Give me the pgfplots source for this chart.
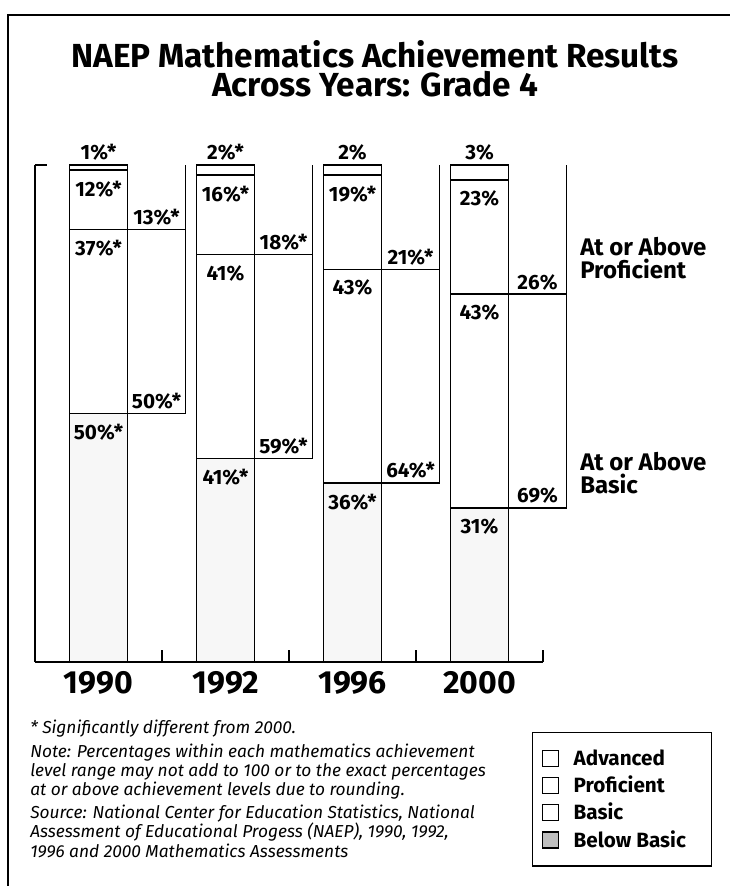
\documentclass[border=0pt]{standalone}
\usepackage{fontspec}
\setmainfont{Fira Sans}
\usepackage{pgfplots}
\pgfplotsset{compat=1.18}

\tikzset{
  inlab/.style={font=\bfseries\fontsize{15.5}{16}\selectfont, inner sep=0pt, text=black, anchor=north, yshift=-7.5pt},
  toplab/.style={font=\bfseries\fontsize{15.5}{16}\selectfont, inner sep=0pt, text=black, anchor=south, yshift=3pt},
  side/.style={font=\bfseries\fontsize{18}{19}\selectfont, anchor=base west, inner sep=0pt},
  foot/.style={font=\itshape\fontsize{13}{14}\selectfont, anchor=base west, inner sep=0pt},
}

\begin{document}
\begin{tikzpicture}
\begin{scope}[x=0.75pt,y=-0.75pt]
\useasboundingbox (0,0) rectangle (730,886);
\draw[line width=1.8pt] (8,886) -- (8,15) -- (730,15);
\node[font=\bfseries\fontsize{25}{22}\selectfont, anchor=north, inner sep=0pt, align=center] at (375,40)
  {NAEP Mathematics Achievement Results\\Across Years: Grade 4};
\node[side] at (580,255) {At or Above};
\node[side] at (580,278) {Proficient};
\node[side] at (580,470) {At or Above};
\node[side] at (580,493) {Basic};
\node[foot] at (30,733) {* Significantly different from 2000.};
\node[foot] at (30,757) {Note: Percentages within each mathematics achievement};
\node[foot] at (30,776) {level range may not add to 100 or to the exact percentages};
\node[foot] at (30,795) {at or above achievement levels due to rounding.};
\node[foot] at (30,818) {Source: National Center for Education Statistics, National};
\node[foot] at (30,837) {Assessment of Educational Progess (NAEP), 1990, 1992,};
\node[foot] at (30,857) {1996 and 2000 Mathematics Assessments};
\end{scope}

% stacked achievement levels (percent of students, from the bottom)
\begin{axis}[
  at={(26.25pt,-496.5pt)}, anchor=south west,
  scale only axis, width=381pt, height=372.75pt,
  xmin=-0.5, xmax=3.5, ymin=0, ymax=100,
  clip=false,
  axis x line=bottom, axis y line=left,
  axis line style={-, line width=1.3pt},
  ybar stacked, bar width=0.457,
  xtick={0.5,1.5,2.5,3.5},
  xticklabels={1990,1992,1996,2000},
  x tick label style={font=\bfseries\fontsize{24}{24}\selectfont, inner sep=0pt, anchor=north, xshift=-47.6pt, yshift=-7pt},
  ytick={100}, yticklabels={},
  tick align=inside, major tick length=9pt,
  every tick/.style={black, line width=1.3pt},
  point meta=explicit symbolic,
  visualization depends on={rawy \as \segh},
  legend image code/.code={\draw[#1, line width=0.9pt] (0pt,-6pt) rectangle (12pt,6pt);},
  legend cell align=left,
  legend style={at={(0.978,-0.141)}, anchor=north west, draw=black, line width=1pt,
    font=\bfseries\fontsize{15.5}{16}\selectfont, inner xsep=7pt, inner ysep=10.5pt,
    row sep=2.5pt, column sep=9pt},
]
\addplot[forget plot, draw=black, fill=black!3, line width=1.1pt, nodes near coords,
  every node near coord/.append style={inlab, shift={(axis direction cs:0,\segh/2)}}]
  coordinates {(0,50) [50\%*] (1,41) [41\%*] (2,36) [36\%*] (3,31) [31\%]};
\addplot[forget plot, draw=black, fill=white, line width=1.1pt, nodes near coords,
  every node near coord/.append style={inlab, shift={(axis direction cs:0,\segh/2)}}]
  coordinates {(0,37) [37\%*] (1,41) [41\%] (2,43) [43\%] (3,43) [43\%]};
\addplot[forget plot, draw=black, fill=white, line width=1.1pt, nodes near coords,
  every node near coord/.append style={inlab, shift={(axis direction cs:0,\segh/2)}}]
  coordinates {(0,12) [12\%*] (1,16) [16\%*] (2,19) [19\%*] (3,23) [23\%]};
\addplot[forget plot, draw=black, fill=white, line width=1.1pt, nodes near coords,
  every node near coord/.append style={toplab, shift={(axis direction cs:0,\segh/2)}}]
  coordinates {(0,1) [1\%*] (1,2) [2\%*] (2,2) [2\%] (3,3) [3\%]};
\addlegendimage{draw=black, fill=white}
\addlegendimage{draw=black, fill=white}
\addlegendimage{draw=black, fill=white}
\addlegendimage{draw=black, fill=black!25}
\legend{Advanced, Proficient, Basic, Below Basic\hspace*{10pt}}
\end{axis}

% at or above levels (percent of students, measured down from the top)
\begin{axis}[
  at={(26.25pt,-496.5pt)}, anchor=south west,
  scale only axis, width=381pt, height=372.75pt,
  xmin=-0.5, xmax=3.5, ymin=0, ymax=100, y dir=reverse,
  clip=false, hide axis,
]
% at or above proficient
\addplot[draw=none, mark=none, x filter/.expression={x+0.457},
  point meta=explicit symbolic, nodes near coords, every node near coord/.append style={toplab},
  error bars/.cd, x dir=both, x fixed=0.2285, error mark=none, error bar style={draw=black, line width=1.1pt}]
  coordinates {(0,13) [13\%*] (1,18) [18\%*] (2,21) [21\%*] (3,26) [26\%]};
% at or above basic
\addplot[draw=none, mark=none, x filter/.expression={x+0.457},
  point meta=explicit symbolic, nodes near coords, every node near coord/.append style={toplab},
  error bars/.cd, x dir=both, x fixed=0.2285, error mark=none, error bar style={draw=black, line width=1.1pt}]
  coordinates {(0,50) [50\%*] (1,59) [59\%*] (2,64) [64\%*] (3,69) [69\%]};
% right edge of the at-or-above column, hanging from the top
\addplot[ybar, bar width=0pt, bar shift=0pt, draw=black, fill=none, line width=1.1pt,
  x filter/.expression={x+0.6855}]
  coordinates {(0,50) (1,59) (2,64) (3,69)};
\end{axis}
\end{tikzpicture}
\end{document}
